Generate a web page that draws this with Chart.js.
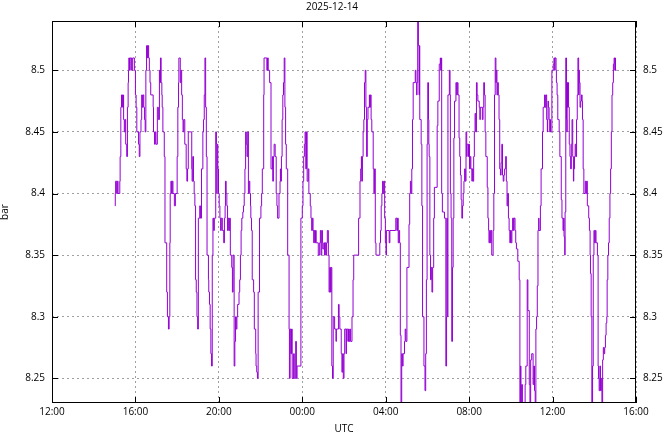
<!DOCTYPE html>
<html>
<head>
<meta charset="utf-8">
<title>2025-12-14</title>
<script src="https://cdn.jsdelivr.net/npm/chart.js@4.4.1/dist/chart.umd.min.js"></script>
<style>
  html, body { margin: 0; padding: 0; background: #fff; }
  #wrap { width: 664px; height: 432px; }
</style>
</head>
<body>
<div id="wrap"><canvas id="chart" width="664" height="432"></canvas></div>
<script>
const titleText = "2025-12-14";
const xTitle = "UTC";
const yTitle = "bar";

// x axis runs from 12:00 on the 14th to 16:00 the next day, in minutes
const xTickMinutes = [0, 240, 480, 720, 960, 1200, 1440, 1680];
const xTickLabels = ["12:00", "16:00", "20:00", "00:00", "04:00", "08:00", "12:00", "16:00"];
const yTicks = [8.25, 8.3, 8.35, 8.4, 8.45, 8.5];
const yRange = [8.23, 8.54];

// sample time (minutes after 12:00 UTC) and pressure reading (bar)
const minutes = [
  181, 182, 183, 186, 188, 190, 195, 196, 198, 200,
  203, 205, 206, 208, 210, 212, 215, 217, 219, 220,
  221, 223, 225, 229, 232, 237, 240, 242, 244, 249,
  251, 253, 256, 258, 260, 262, 264, 266, 268, 270,
  272, 275, 276, 278, 280, 282, 284, 291, 292, 295,
  297, 299, 303, 306, 309, 311, 312, 314, 316, 317,
  319, 323, 325, 330, 332, 335, 337, 339, 340, 342,
  344, 346, 348, 352, 355, 360, 362, 364, 365,
  367, 369, 371, 373, 375, 377, 379, 382, 386, 388,
  390, 392, 402, 403, 405, 407, 409, 411, 413, 415,
  417, 419, 421, 425, 427, 430, 434, 436, 438, 440,
  442, 444, 446, 450, 451, 453, 455, 457, 459, 461,
  463, 465, 467, 471, 473, 474, 475, 477, 479, 481,
  483, 485, 487, 490, 494, 496, 498, 499, 501, 503,
  505, 507, 509, 511, 513, 517, 519, 521, 524, 526,
  528, 530, 532, 534, 538, 540, 542, 544, 546, 549,
  551, 553, 555, 557, 559, 561, 563, 565, 567, 569,
  571, 572,
  574, 576, 580, 582, 586, 587, 589, 591, 593, 597,
  601, 603, 605, 609, 610, 618, 620, 622, 626, 630,
  634, 635, 637, 639, 642, 645, 647, 649, 653, 656,
  657, 658, 660, 662, 664, 666, 668, 670, 672, 674,
  678, 682, 683, 685, 687, 689, 691, 695, 697, 701,
  703, 705, 716, 720, 722, 724, 726, 728, 730, 732,
  734, 737, 739, 743, 745, 747, 749, 751, 753, 754,
  756, 758, 760, 766, 770, 772, 774, 776, 778, 779,
  782, 784, 786, 788, 790, 792, 795, 797, 799, 801,
  803, 805, 807, 809, 813, 817, 818, 824, 826, 828,
  832, 834, 836, 838, 840, 842, 846, 847, 851, 853,
  855, 857, 859, 863, 866, 868, 882, 886, 888, 890,
  891, 893, 895, 897, 899, 901, 903, 905, 907, 909,
  913, 914, 916, 918, 920, 924, 926, 928, 930, 932,
  943, 945, 947, 949, 951, 953, 955, 957, 959, 961,
  962, 970, 972, 987,
  989, 992, 994, 996, 998, 1000, 1002, 1004, 1006, 1008,
  1010, 1014, 1016, 1018, 1021, 1027, 1029, 1031, 1033, 1035,
  1037, 1039, 1045, 1047, 1049, 1050, 1052, 1054, 1056, 1057,
  1058, 1062, 1064, 1066, 1070, 1073, 1075, 1077, 1079, 1081,
  1083, 1084, 1085, 1087, 1089, 1091, 1093, 1095, 1098, 1100,
  1108, 1110, 1114, 1117, 1118, 1120, 1121, 1123, 1129, 1133,
  1135, 1136, 1137, 1139, 1143, 1145, 1146, 1148, 1150, 1152,
  1154, 1156, 1158, 1162, 1164, 1166, 1168, 1171, 1173, 1175,
  1177, 1179, 1181, 1183, 1185, 1187, 1189, 1191, 1193, 1194,
  1196, 1198, 1199, 1201, 1203, 1205, 1208, 1209, 1211, 1213,
  1215, 1217, 1219, 1221, 1223, 1225, 1229, 1231, 1232, 1238,
  1240, 1242, 1244, 1246, 1248, 1252, 1254, 1256, 1257, 1259,
  1261, 1263, 1265, 1269, 1271, 1273, 1275, 1277, 1278, 1280,
  1282, 1284, 1286, 1288, 1290, 1292, 1294, 1296, 1298, 1300,
  1302, 1305, 1307, 1309, 1311, 1313, 1315, 1317, 1319, 1321,
  1323, 1325, 1328, 1329, 1332, 1334, 1336, 1340, 1344, 1346,
  1348, 1349, 1350, 1352, 1353, 1361, 1363, 1367, 1369, 1373,
  1375, 1377, 1380, 1384, 1386, 1388, 1390, 1392, 1394, 1396,
  1398, 1400, 1401,
  1405, 1407, 1411, 1413, 1417, 1419, 1421, 1423, 1425, 1426,
  1427, 1428, 1430, 1432, 1433, 1434, 1438, 1442, 1444, 1446,
  1447, 1450, 1451, 1453, 1455, 1459, 1461, 1465, 1467, 1470,
  1472, 1473, 1475, 1476, 1478, 1480, 1481, 1482, 1483, 1484,
  1486, 1488, 1490, 1492, 1494, 1496, 1498, 1500, 1501, 1503,
  1505, 1507, 1509, 1511, 1513, 1515, 1516, 1517, 1519, 1521,
  1523, 1525, 1526, 1528, 1530, 1534, 1536, 1538, 1540, 1544,
  1546, 1548, 1549, 1551, 1553, 1555, 1557, 1559, 1561, 1563,
  1565, 1569, 1571, 1572, 1574, 1576, 1578, 1580, 1582, 1584,
  1586, 1588, 1590, 1592, 1594, 1596, 1597, 1599, 1601, 1603,
  1605, 1607, 1609, 1611, 1613, 1615, 1617, 1619, 1620, 1621,
  1624
];

const pressure = [
  8.39, 8.40, 8.41, 8.40, 8.41, 8.40, 8.41, 8.43, 8.47, 8.48,
  8.47, 8.48, 8.46, 8.45, 8.46, 8.44, 8.43, 8.47, 8.49, 8.50,
  8.51, 8.50, 8.51, 8.50, 8.51, 8.50, 8.48, 8.47, 8.45, 8.44,
  8.43, 8.45, 8.46, 8.48, 8.47, 8.48, 8.47, 8.46, 8.45, 8.50,
  8.52, 8.51, 8.52, 8.51, 8.50, 8.49, 8.48, 8.47, 8.45, 8.44,
  8.45, 8.44, 8.47, 8.46, 8.50, 8.49, 8.51, 8.49, 8.48, 8.47,
  8.45, 8.43, 8.36, 8.32, 8.30, 8.29, 8.30, 8.36, 8.40, 8.41,
  8.40, 8.41, 8.40, 8.39, 8.40, 8.43, 8.47, 8.49, 8.51,
  8.51, 8.49, 8.50, 8.48, 8.46, 8.45, 8.46, 8.44, 8.42, 8.41,
  8.42, 8.45, 8.42, 8.41, 8.43, 8.41, 8.40, 8.39, 8.33, 8.32,
  8.30, 8.29, 8.38, 8.39, 8.38, 8.42, 8.45, 8.46, 8.48, 8.51,
  8.47, 8.43, 8.35, 8.33, 8.32, 8.31, 8.29, 8.27, 8.26, 8.35,
  8.38, 8.37, 8.38, 8.45, 8.44, 8.40, 8.44, 8.42, 8.40, 8.39,
  8.38, 8.37, 8.38, 8.37, 8.36, 8.38, 8.39, 8.41, 8.40, 8.39,
  8.37, 8.38, 8.37, 8.38, 8.35, 8.34, 8.32, 8.35, 8.26, 8.28,
  8.30, 8.29, 8.30, 8.31, 8.32, 8.33, 8.35, 8.37, 8.38, 8.385,
  8.39, 8.40, 8.42, 8.45, 8.44, 8.43, 8.45, 8.40, 8.41, 8.40,
  8.39, 8.38,
  8.37, 8.33, 8.32, 8.29, 8.27, 8.26, 8.255, 8.25, 8.32, 8.38,
  8.39, 8.40, 8.42, 8.48, 8.51, 8.50, 8.51, 8.50, 8.49, 8.42,
  8.43, 8.41, 8.43, 8.44, 8.43, 8.40, 8.39, 8.38, 8.40, 8.41,
  8.42, 8.41, 8.43, 8.46, 8.48, 8.49, 8.51, 8.47, 8.44, 8.42,
  8.35, 8.29, 8.25, 8.29, 8.27, 8.29, 8.25, 8.27, 8.25, 8.28,
  8.25, 8.26, 8.38, 8.39, 8.41, 8.43, 8.44, 8.45, 8.42, 8.45,
  8.41, 8.42, 8.40, 8.39, 8.38, 8.37, 8.38, 8.37, 8.36, 8.37,
  8.36, 8.37, 8.36, 8.35, 8.36, 8.37, 8.35, 8.37, 8.36, 8.355,
  8.36, 8.35, 8.36, 8.35, 8.36, 8.37, 8.35, 8.32, 8.34, 8.32,
  8.34, 8.26, 8.25, 8.30, 8.29, 8.28, 8.29, 8.31, 8.30, 8.29,
  8.27, 8.255, 8.27, 8.25, 8.27, 8.29, 8.27, 8.29, 8.28, 8.29,
  8.28, 8.29, 8.28, 8.30, 8.33, 8.35, 8.38, 8.41, 8.42, 8.43,
  8.41, 8.43, 8.45, 8.46, 8.49, 8.50, 8.47, 8.43, 8.46, 8.47,
  8.48, 8.47, 8.48, 8.46, 8.45, 8.42, 8.40, 8.42, 8.36, 8.35,
  8.36, 8.37, 8.39, 8.40, 8.41, 8.40, 8.41, 8.38, 8.36, 8.35,
  8.37, 8.36, 8.37, 8.37,
  8.38, 8.37, 8.38, 8.36, 8.37, 8.36, 8.285, 8.22, 8.27, 8.26,
  8.27, 8.28, 8.29, 8.28, 8.34, 8.375, 8.40, 8.41, 8.40, 8.42,
  8.46, 8.49, 8.50, 8.49, 8.48, 8.49, 8.545, 8.52, 8.48, 8.52,
  8.46, 8.44, 8.39, 8.30, 8.26, 8.24, 8.27, 8.33, 8.44, 8.49,
  8.46, 8.44, 8.43, 8.35, 8.33, 8.34, 8.32, 8.34, 8.38, 8.405,
  8.455, 8.475, 8.505, 8.51, 8.50, 8.51, 8.40, 8.385, 8.38, 8.26,
  8.30, 8.38, 8.30, 8.48, 8.50, 8.48, 8.40, 8.38, 8.28, 8.34,
  8.38, 8.445, 8.475, 8.49, 8.48, 8.49, 8.48, 8.445, 8.43, 8.415,
  8.395, 8.38, 8.39, 8.40, 8.41, 8.42, 8.41, 8.45, 8.43, 8.44,
  8.44, 8.43, 8.44, 8.42, 8.43, 8.42, 8.41, 8.42, 8.41, 8.43,
  8.45, 8.465, 8.45, 8.49, 8.48, 8.475, 8.47, 8.46, 8.47, 8.46,
  8.47, 8.49, 8.48, 8.45, 8.43, 8.405, 8.38, 8.37, 8.36, 8.37,
  8.36, 8.37, 8.35, 8.37, 8.40, 8.48, 8.51, 8.49, 8.50, 8.48,
  8.49, 8.48, 8.46, 8.42, 8.415, 8.425, 8.44, 8.415, 8.41, 8.415,
  8.42, 8.43, 8.41, 8.39, 8.40, 8.38, 8.37, 8.36, 8.37, 8.36,
  8.37, 8.38, 8.37, 8.38, 8.37, 8.36, 8.355, 8.345, 8.33, 8.22,
  8.26, 8.245, 8.22, 8.245, 8.22, 8.245, 8.26, 8.33, 8.305, 8.245,
  8.22, 8.265, 8.27, 8.245, 8.26, 8.24, 8.22, 8.29, 8.30, 8.325,
  8.37, 8.38, 8.37,
  8.39, 8.42, 8.45, 8.47, 8.48, 8.47, 8.48, 8.46, 8.45, 8.46,
  8.475, 8.47, 8.46, 8.45, 8.46, 8.45, 8.50, 8.505, 8.51, 8.50,
  8.51, 8.50, 8.49, 8.48, 8.46, 8.45, 8.43, 8.395, 8.38, 8.37,
  8.38, 8.365, 8.35, 8.385, 8.51, 8.46, 8.45, 8.49, 8.47, 8.49,
  8.47, 8.44, 8.43, 8.42, 8.44, 8.46, 8.43, 8.41, 8.42, 8.43,
  8.44, 8.43, 8.46, 8.48, 8.51, 8.48, 8.50, 8.49, 8.47, 8.475,
  8.48, 8.475, 8.46, 8.42, 8.40, 8.41, 8.40, 8.41, 8.39, 8.38,
  8.37, 8.35, 8.335, 8.30, 8.22, 8.26, 8.35, 8.37, 8.36, 8.37,
  8.36, 8.35, 8.26, 8.25, 8.24, 8.26, 8.24, 8.25, 8.22, 8.265,
  8.275, 8.27, 8.275, 8.285, 8.295, 8.30, 8.33, 8.35, 8.36, 8.38,
  8.40, 8.42, 8.45, 8.48, 8.49, 8.505, 8.51, 8.50, 8.51, 8.50,
  8.50
];

const points = [];
for (let i = 0; i < Math.min(minutes.length, pressure.length); i++) {
  points.push({ x: minutes[i], y: pressure[i] });
}

Chart.defaults.font.family = "'Open Sans', 'DejaVu Sans', sans-serif";
Chart.defaults.font.size = 10;
Chart.defaults.color = "#000";

const gridStyle = { color: "#a0a0a0", lineWidth: 1, drawTicks: false };
const gridDash = { display: false, dash: [2, 3] };
const fmtY = (v) => String(+v.toFixed(2));

// gnuplot-like frame with inward tick marks on all four sides
const framePlugin = {
  id: "frame",
  afterDraw(chart) {
    const { ctx, chartArea: a, scales } = chart;
    ctx.save();
    ctx.strokeStyle = "#000";
    ctx.lineWidth = 1;
    ctx.beginPath();
    xTickMinutes.forEach((m) => {
      const x = Math.round(scales.x.getPixelForValue(m)) + 0.5;
      ctx.moveTo(x, a.bottom);
      ctx.lineTo(x, a.bottom - 6);
      ctx.moveTo(x, a.top);
      ctx.lineTo(x, a.top + 6);
    });
    yTicks.forEach((v) => {
      const y = Math.round(scales.y.getPixelForValue(v)) + 0.5;
      ctx.moveTo(a.left, y);
      ctx.lineTo(a.left + 6, y);
      ctx.moveTo(a.right, y);
      ctx.lineTo(a.right - 6, y);
    });
    ctx.stroke();
    ctx.strokeRect(a.left + 0.5, a.top + 0.5, a.right - a.left - 1, a.bottom - a.top - 1);
    ctx.restore();
  }
};

new Chart(document.getElementById("chart"), {
  type: "line",
  data: {
    datasets: [{
      data: points,
      borderColor: "#9400d3",
      borderWidth: 1,
      pointRadius: 0,
      stepped: true,
      tension: 0
    }]
  },
  options: {
    responsive: false,
    animation: false,
    devicePixelRatio: 1,
    layout: { padding: 0 },
    plugins: {
      legend: { display: false },
      tooltip: { enabled: false },
      title: {
        display: true,
        text: titleText,
        font: { size: 10, weight: "normal" },
        padding: { top: 1, bottom: 8 }
      }
    },
    scales: {
      x: {
        type: "linear",
        position: "bottom",
        min: xTickMinutes[0],
        max: xTickMinutes[xTickMinutes.length - 1],
        afterFit(scale) { scale.height = 29; },
        afterBuildTicks(scale) { scale.ticks = xTickMinutes.map((v) => ({ value: v })); },
        ticks: {
          padding: 3,
          autoSkip: false,
          maxRotation: 0,
          callback: (v, i) => xTickLabels[i]
        },
        grid: gridStyle,
        border: gridDash,
        title: { display: true, text: xTitle, padding: { top: 0, bottom: -3 } }
      },
      y: {
        type: "linear",
        position: "left",
        min: yRange[0],
        max: yRange[1],
        afterFit(scale) { scale.width = 52; },
        afterBuildTicks(scale) { scale.ticks = yTicks.map((v) => ({ value: v })); },
        ticks: { padding: 7, callback: fmtY },
        grid: gridStyle,
        border: gridDash,
        title: { display: true, text: yTitle, padding: { top: -1, bottom: 0 } }
      },
      y2: {
        type: "linear",
        position: "right",
        min: yRange[0],
        max: yRange[1],
        afterFit(scale) { scale.width = 28; },
        afterBuildTicks(scale) { scale.ticks = yTicks.map((v) => ({ value: v })); },
        ticks: { padding: 7, callback: fmtY },
        grid: { display: false, drawTicks: false },
        border: { display: false }
      }
    }
  },
  plugins: [framePlugin]
});
</script>
</body>
</html>
